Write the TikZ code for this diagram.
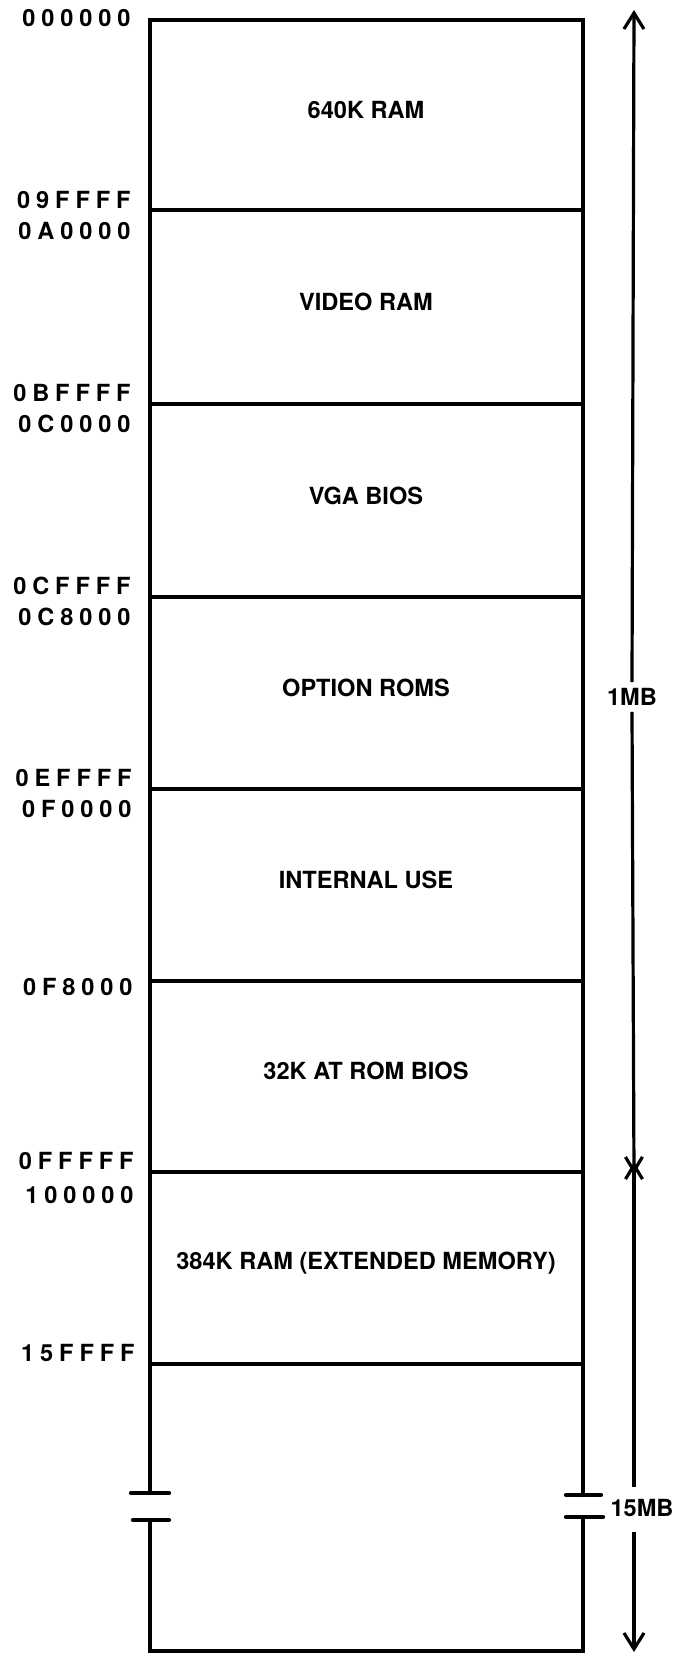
\documentclass[tikz,border=0pt]{standalone}
\usepackage{fontspec}
\setmainfont{TeX Gyre Heros}
\newfontfamily\addrfont{TeX Gyre Heros}[LetterSpace=25]
\usetikzlibrary{arrows.meta}
\begin{document}
\begin{tikzpicture}[x=0.5pt,y=-0.5pt,
  wall/.style={line width=2.1pt, line cap=round},
  region/.style={font=\fontsize{11.8}{14}\selectfont\bfseries, inner sep=0pt},
  addr/.style={font=\addrfont\fontsize{11.8}{14}\selectfont\bfseries, anchor=east, inner sep=0pt},
  dim/.style={line width=1.6pt, -{Straight Barb[length=8pt,width=10pt]}},
  xdim/.style={line width=1.6pt, -{Straight Barb[length=7pt,width=8.5pt]}},
  sizelbl/.style={font=\fontsize{11.8}{14}\selectfont\bfseries, inner xsep=1pt, inner ysep=3pt, text height=8.5pt, text depth=0pt}
]
\useasboundingbox (0,0) rectangle (678,1655);
% box outline
\draw[wall] (150,1493) -- (150,20) -- (583,20) -- (583,1495);
\draw[wall] (150,1520) -- (150,1651) -- (583,1651) -- (583,1517);
% break marks
\draw[wall] (131,1493) -- (169,1493);
\draw[wall] (133,1520) -- (169,1520);
\draw[wall] (566,1495) -- (601,1495);
\draw[wall] (566,1517) -- (603,1517);
% divisions
\foreach \yy in {210,404,597,789,981,1172,1364}
  \draw[wall] (150,\yy) -- (583,\yy);
% region texts
\node[region] (r1) at (366,110) {640K RAM};
\node[region] (r2) at (366,302) {VIDEO RAM};
\node[region] (r3) at (366,496) {VGA BIOS};
\node[region] (r4) at (366,688) {OPTION ROMS};
\node[region] (r5) at (366,880) {INTERNAL USE};
\node[region] (r6) at (366,1071) {32K AT ROM BIOS};
\node[region] (r7) at (366,1263) {384K RAM (EXTENDED MEMORY)};
% addresses
\node[addr] (a0) at (131,18) {000000};
\node[addr] (a1) at (131,200) {09FFFF};
\node[addr] (a2) at (131,231) {0A0000};
\node[addr] (a3) at (131,393) {0BFFFF};
\node[addr] (a4) at (131,424) {0C0000};
\node[addr] (a5) at (131,586) {0CFFFF};
\node[addr] (a6) at (131,617) {0C8000};
\node[addr] (a7) at (132,778) {0EFFFF};
\node[addr] (a8) at (132,809) {0F0000};
\node[addr] (a9) at (133,987) {0F8000};
\node[addr] (a10) at (134,1161) {0FFFFF};
\node[addr] (a11) at (134,1195) {100000};
\node[addr] (a12) at (135,1353) {15FFFF};
% size arrows
\coordinate (tTop) at (634,10);
\coordinate (xmDown) at (634,1174);
\coordinate (xmUp) at (634,1162);
\coordinate (g1) at (634,1487);
\coordinate (g2) at (634,1532);
\coordinate (tBot) at (634,1652);
\node[sizelbl] (mb1) at (632,697) {1MB};
\node[sizelbl, inner ysep=0pt] (mb15) at (642,1508) {15MB};
\draw[dim] (mb1.north) -- (tTop);
\draw[xdim] (mb1.south) -- (xmDown);
\draw[xdim] (g1) -- (xmUp);
\draw[dim] (g2) -- (tBot);
\end{tikzpicture}
\end{document}
